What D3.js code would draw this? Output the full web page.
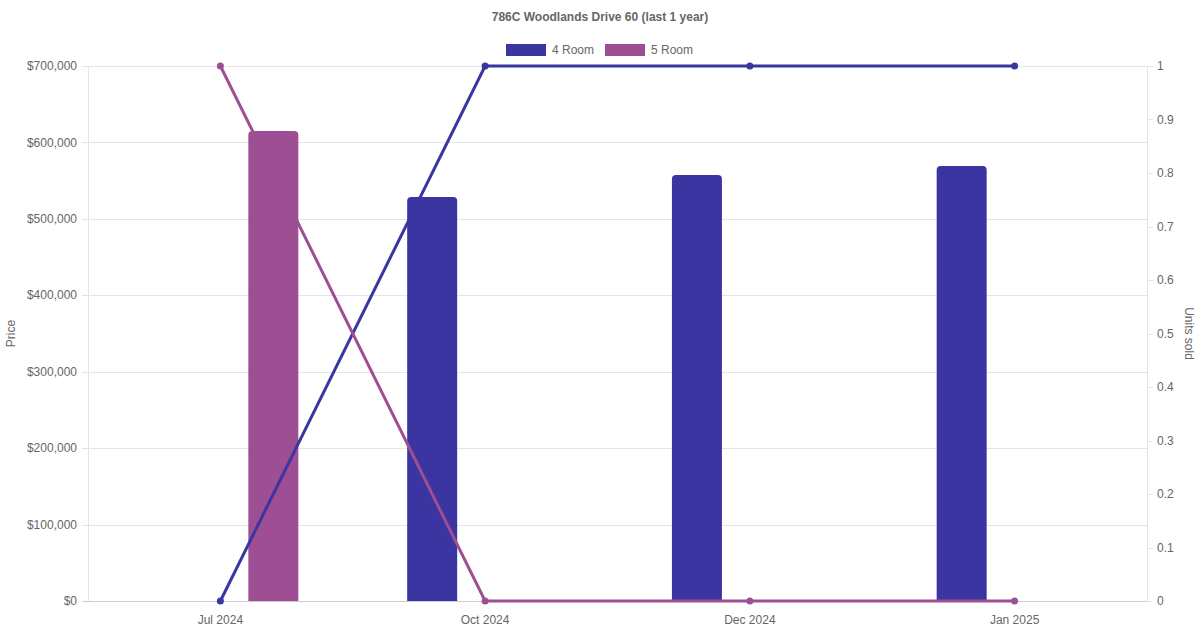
<!DOCTYPE html>
<html>
<head>
<meta charset="utf-8">
<script src="https://cdn.jsdelivr.net/npm/d3@7"></script>
<style>
	body { margin: 0; background: #fff; }
	svg { font-family: "Liberation Sans", Arial, sans-serif; }
</style>
</head>
<body>
<script>
// data
var months = ['Jul 2024', 'Oct 2024', 'Dec 2024', 'Jan 2025'];
var seriesNames = ['4 Room', '5 Room'];
var colors = ['#3a35a0', '#9e4f94'];
var price4 = [null, 528500, 557500, 569000];
var price5 = [615000, null, null, null];
var units4 = [0, 1, 1, 1];
var units5 = [1, 0, 0, 0];
var priceTicks = [0, 100000, 200000, 300000, 400000, 500000, 600000, 700000];
var unitTicks = [0, 0.1, 0.2, 0.3, 0.4, 0.5, 0.6, 0.7, 0.8, 0.9, 1];

(function() {
	var width = 1200, height = 630,
		plotL = 88, plotR = 1147, plotT = 66, plotB = 601;

	var svg = d3.select('body').append('svg')
		.attr('width', width)
		.attr('height', height);

	var x = d3.scaleBand().domain(months).range([plotL, plotR]);
	// each category uses 80% of its band, split into one slot per series
	var inner = d3.scaleBand().domain(seriesNames)
		.range([x.bandwidth() * 0.1, x.bandwidth() * 0.9]);
	var yPrice = d3.scaleLinear().domain([0, 700000]).range([plotB, plotT]);
	var yUnits = d3.scaleLinear().domain([0, 1]).range([plotB, plotT]);

	// grid
	svg.append('g').selectAll('line')
		.data(priceTicks)
		.enter().append('line')
		.attr('x1', plotL - 6)
		.attr('x2', plotR)
		.attr('y1', function(d) { return Math.round(yPrice(d)) + 0.5; })
		.attr('y2', function(d) { return Math.round(yPrice(d)) + 0.5; })
		.attr('stroke', function(d) { return d === 0 ? '#ccc' : '#e4e4e4'; });

	// left axis line
	svg.append('line')
		.attr('x1', plotL + 0.5).attr('x2', plotL + 0.5)
		.attr('y1', plotT).attr('y2', plotB)
		.attr('stroke', '#e4e4e4');

	// right axis
	svg.append('line')
		.attr('x1', plotR + 0.5).attr('x2', plotR + 0.5)
		.attr('y1', plotT).attr('y2', plotB)
		.attr('stroke', '#e4e4e4');
	var rAxis = svg.append('g');
	rAxis.selectAll('line')
		.data(unitTicks)
		.enter().append('line')
		.attr('x1', plotR)
		.attr('x2', plotR + 6)
		.attr('y1', function(d) { return Math.round(yUnits(d)) + 0.5; })
		.attr('y2', function(d) { return Math.round(yUnits(d)) + 0.5; })
		.attr('stroke', '#e4e4e4');
	rAxis.selectAll('text')
		.data(unitTicks)
		.enter().append('text')
		.attr('x', plotR + 10)
		.attr('y', function(d) { return yUnits(d); })
		.attr('dy', '0.35em')
		.attr('font-size', 12)
		.attr('fill', '#666')
		.text(function(d) { return d3.format('~g')(d); });

	// left labels
	var fmt = d3.format('$,');
	svg.append('g').selectAll('text')
		.data(priceTicks)
		.enter().append('text')
		.attr('x', plotL - 11)
		.attr('y', function(d) { return yPrice(d); })
		.attr('dy', '0.35em')
		.attr('text-anchor', 'end')
		.attr('font-size', 12)
		.attr('fill', '#666')
		.text(function(d) { return fmt(d); });

	// x labels
	svg.append('g').selectAll('text')
		.data(months)
		.enter().append('text')
		.attr('x', function(d) { return x(d) + x.bandwidth() / 2; })
		.attr('y', plotB + 23)
		.attr('text-anchor', 'middle')
		.attr('font-size', 12)
		.attr('fill', '#666')
		.text(function(d) { return d; });

	// axis titles
	svg.append('text')
		.attr('transform', 'translate(15,' + ((plotT + plotB) / 2) + ') rotate(-90)')
		.attr('text-anchor', 'middle')
		.attr('font-size', 12)
		.attr('fill', '#666')
		.text('Price');
	svg.append('text')
		.attr('transform', 'translate(1185,' + ((plotT + plotB) / 2) + ') rotate(90)')
		.attr('text-anchor', 'middle')
		.attr('font-size', 12)
		.attr('fill', '#666')
		.text('Units sold');

	// title
	svg.append('text')
		.attr('x', width / 2)
		.attr('y', 21)
		.attr('text-anchor', 'middle')
		.attr('font-size', 12)
		.attr('font-weight', 'bold')
		.attr('fill', '#666')
		.text('786C Woodlands Drive 60 (last 1 year)');

	// legend
	var legend = svg.append('g');
	var legendX = [506, 605];
	seriesNames.forEach(function(name, i) {
		legend.append('rect')
			.attr('x', legendX[i]).attr('y', 44)
			.attr('width', 40).attr('height', 12)
			.attr('fill', colors[i]);
		legend.append('text')
			.attr('x', legendX[i] + 46).attr('y', 50)
			.attr('dy', '0.35em')
			.attr('font-size', 12)
			.attr('fill', '#666')
			.text(name);
	});

	// bars (rounded top corners)
	var barW = 50;
	function roundTop(x0, y0, w, h, r) {
		return 'M' + x0 + ',' + (y0 + h) +
			'V' + (y0 + r) +
			'Q' + x0 + ',' + y0 + ' ' + (x0 + r) + ',' + y0 +
			'H' + (x0 + w - r) +
			'Q' + (x0 + w) + ',' + y0 + ' ' + (x0 + w) + ',' + (y0 + r) +
			'V' + (y0 + h) + 'Z';
	}
	[price4, price5].forEach(function(vals, i) {
		var data = months.map(function(m, j) { return { m: m, v: vals[j] }; })
			.filter(function(d) { return d.v != null; });
		svg.append('g').selectAll('path')
			.data(data)
			.enter().append('path')
			.attr('d', function(d) {
				var cx = x(d.m) + inner(seriesNames[i]) + inner.bandwidth() / 2;
				var y0 = yPrice(d.v);
				return roundTop(cx - barW / 2, y0, barW, plotB - y0, 4);
			})
			.attr('fill', colors[i]);
	});

	// lines
	[units4, units5].forEach(function(vals, i) {
		var pts = months.map(function(m, j) { return { m: m, v: vals[j] }; });
		var line = d3.line()
			.x(function(d) { return x(d.m) + x.bandwidth() / 2; })
			.y(function(d) { return yUnits(d.v); });
		svg.append('path')
			.datum(pts)
			.attr('d', line)
			.attr('fill', 'none')
			.attr('stroke', colors[i])
			.attr('stroke-width', 3);
		svg.append('g').selectAll('circle')
			.data(pts)
			.enter().append('circle')
			.attr('cx', function(d) { return x(d.m) + x.bandwidth() / 2; })
			.attr('cy', function(d) { return yUnits(d.v); })
			.attr('r', 3.5)
			.attr('fill', colors[i]);
	});
})();
</script>
</body>
</html>
